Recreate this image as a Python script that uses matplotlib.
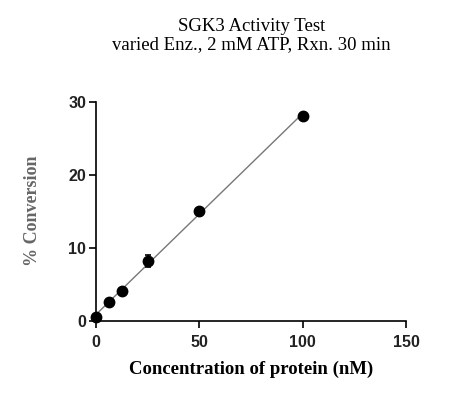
import numpy as np
import matplotlib.pyplot as plt

# values
conc_nm = [0, 6.25, 12.5, 25, 50, 100]
conversion = [0.45, 2.6, 4.1, 8.2, 15.0, 28.1]
conversion_err = [0.1, 0.15, 0.2, 0.85, 0.3, 0.2]

x_ticks = [0, 50, 100, 150]
y_ticks = [0, 10, 20, 30]

title = "SGK3 Activity Test\nvaried Enz., 2 mM ATP, Rxn. 30 min"
x_label = "Concentration of protein (nM)"
y_label = "% Conversion"


def main():
    fig = plt.figure(figsize=(4.6, 3.99), dpi=100)
    ax = fig.add_axes([0.2087, 0.1962, 0.6739, 0.5489])

    # linear fit through the points
    slope, intercept = np.polyfit(conc_nm, conversion, 1)
    xf = np.array([0, max(conc_nm)])
    ax.plot(xf, slope * xf + intercept, color="#777777", lw=1.0, zorder=2)

    ax.errorbar(conc_nm, conversion, yerr=conversion_err, fmt="o", color="black",
                ms=7.5, capsize=2.5, elinewidth=1.2, capthick=1.2, zorder=3, clip_on=False)

    ax.set_xlim(0, 150)
    ax.set_ylim(0, 30)
    ax.set_xticks(x_ticks)
    ax.set_yticks(y_ticks)
    for spine in ["top", "right"]:
        ax.spines[spine].set_visible(False)
    for spine in ["left", "bottom"]:
        ax.spines[spine].set_linewidth(1.2)
    ax.tick_params(axis="x", direction="out", length=5, width=1.2, pad=5)
    ax.tick_params(axis="y", direction="out", length=5, width=1.2, pad=2)
    for lbl in ax.get_xticklabels() + ax.get_yticklabels():
        lbl.set_fontfamily("Liberation Sans")
        lbl.set_fontweight("bold")
        lbl.set_fontsize(11.5)
        lbl.set_color("#222222")

    ax.set_xlabel(x_label, family="Liberation Serif", fontweight="bold",
                  fontsize=13.5, labelpad=8)
    ax.set_ylabel(y_label, family="Liberation Serif", fontweight="bold",
                  fontsize=13, color="#666666", labelpad=20)

    fig.text(0.547, 0.91, title, ha="center", va="center", family="Liberation Serif",
             fontsize=13.5, linespacing=1.1, color="black")

    fig.savefig("out.png", dpi=100)
    plt.close(fig)


if __name__ == "__main__":
    main()
